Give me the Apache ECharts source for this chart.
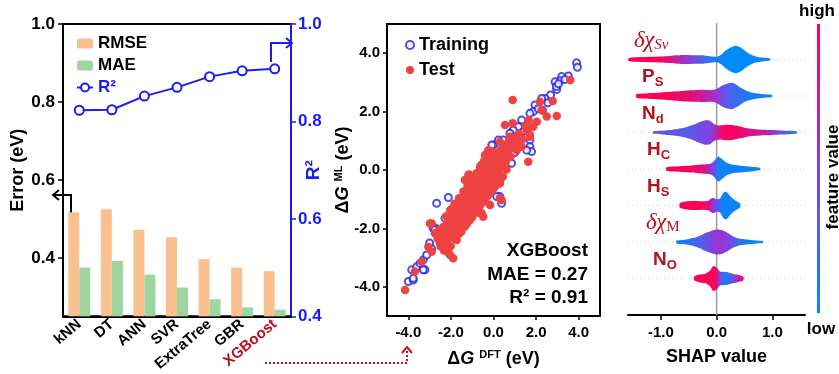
<!DOCTYPE html>
<html><head><meta charset="utf-8">
<script src="https://cdn.jsdelivr.net/npm/echarts@6/dist/echarts.min.js"></script>
<style>html,body{margin:0;padding:0;background:#fff}#c{width:839px;height:374px}</style>
</head><body><div id="c"></div>
<script>
// ---------- data ----------
const models = ['kNN','DT','ANN','SVR','ExtraTree','GBR','XGBoost'];
const rmse = [0.517,0.525,0.472,0.453,0.397,0.375,0.366];
const mae  = [0.375,0.392,0.357,0.324,0.294,0.273,0.267];
const r2   = [0.823,0.824,0.852,0.870,0.892,0.904,0.908];
const errorTicks = [0.4,0.6,0.8,1.0];
const parityTicks = [-4,-2,0,2,4];
const shapTicks = [-1,0,1];

const training = [
[3.90,3.67],[3.94,3.52],[3.51,3.22],[3.20,3.20],[3.12,3.06],[2.89,3.02],[2.97,2.76],[2.95,2.86],[3.35,3.10],[3.05,2.95],
[2.68,2.57],[2.42,2.45],[2.26,2.45],[2.55,2.30],[1.95,2.23],[1.87,2.00],[1.71,1.94],[2.10,2.10],[2.30,2.05],
[1.32,1.71],[1.17,1.48],[0.93,1.37],[0.77,1.26],[1.40,1.31],[1.56,1.14],[1.71,1.03],[1.71,0.80],[1.79,0.63],[1.56,0.68],[1.10,1.10],[1.25,0.95],[0.60,0.80],
[0.00,0.86],[0.23,1.03],[0.46,1.03],[0.93,0.91],[0.85,0.23],[-0.08,0.86],[0.30,0.50],[0.65,0.45],[1.00,0.60],
[0.30,-0.91],[0.38,-1.14],[0.15,-0.91],[-1.02,-0.40],[-2.12,-0.94],[-2.67,-1.14],[-2.70,-2.00],[-2.28,-1.65],[-2.83,-2.00],
[-2.75,-2.05],[-2.20,-2.49],[-1.81,-2.34],[-4.00,-3.82],[-3.77,-3.77],[-3.84,-3.42],[-3.60,-3.31],[-3.45,-3.20],[-3.22,-3.42],[-3.30,-3.08],[-3.14,-2.91],[-3.77,-3.71],[-3.30,-3.42],
[-2.50,-2.20],[-2.00,-1.80],[-1.50,-1.40],[-1.00,-1.00],[-0.50,-0.50],[0.00,0.00],[-0.30,-0.10],[-1.80,-1.30],[-1.20,-0.70],[-0.70,-0.20],[0.20,0.20],[-2.40,-2.60],[-2.90,-2.70],[-3.00,-2.50]
];
const test = [
[0.90,2.40],[3.60,3.08],[2.97,1.85],[2.78,2.36],[2.50,1.83],[2.18,2.34],[2.26,2.05],[2.03,1.65],[1.63,0.28],[0.90,1.60],[0.54,1.54],[-0.24,0.51],[1.71,1.14],[1.56,1.37],[1.86,1.48],[1.32,0.80],[1.09,0.68],
[0.30,-0.97],[-1.18,-0.17],[-0.48,-1.60],[-2.90,-1.83],
[-4.15,-4.11],[-2.98,-1.83],[-2.75,-2.17],[-3.06,-2.63],[-2.90,-2.80],[-3.69,-3.48],[-3.37,-3.14],[-2.04,-2.91],[-1.89,-3.02],[-2.10,-2.85],[-2.51,-2.51],[-2.43,-2.28],[-0.63,-1.48],[-1.73,-2.40],[-1.18,-0.86],[-0.55,-1.48],[0.30,-0.46],[-1.02,-0.74],
[-1.15,-0.15],[-1.34,-0.34],[-0.63,0.11],[-0.40,0.51],[-0.24,0.68],[0.30,0.97],[0.77,1.14],[1.71,1.20],
[0.38,-1.03],[-0.16,-1.20],[-1.42,-1.94],[-2.04,-2.17],[-2.50,-2.28],
[-2.62,-2.35],[-2.55,-2.05],[-2.48,-2.62],[-2.41,-2.30],[-2.36,-1.95],[-2.30,-2.48],[-2.24,-2.15],[-2.18,-1.82],[-2.15,-2.38],[-2.08,-2.02],
[-2.02,-1.68],[-1.97,-2.25],[-1.92,-1.90],[-1.88,-1.55],[-1.84,-2.12],[-1.78,-1.78],[-1.74,-1.42],[-1.70,-2.00],[-1.66,-1.65],[-1.61,-1.30],
[-1.58,-1.88],[-1.53,-1.52],[-1.49,-1.18],[-1.45,-1.75],[-1.41,-1.40],[-1.36,-1.05],[-1.33,-1.62],[-1.28,-1.28],[-1.24,-0.92],[-1.21,-1.50],
[-1.16,-1.15],[-1.12,-0.80],[-1.08,-1.38],[-1.04,-1.02],[-0.99,-0.68],[-0.96,-1.25],[-0.91,-0.90],[-0.87,-0.55],[-0.84,-1.12],[-0.79,-0.78],
[-0.75,-0.42],[-0.72,-1.00],[-0.67,-0.65],[-0.63,-0.30],[-0.60,-0.88],[-0.55,-0.52],[-0.51,-0.18],[-0.48,-0.76],[-0.43,-0.40],[-0.39,-0.05],
[-0.36,-0.64],[-0.31,-0.28],[-0.27,0.08],[-0.24,-0.52],[-0.19,-0.15],[-0.15,0.20],[-0.12,-0.40],[-0.07,-0.02],[-0.03,0.32],[0.00,-0.28],
[0.05,0.10],[0.09,0.45],[0.12,-0.15],[0.17,0.22],[0.21,0.58],[0.25,-0.02],[0.30,0.35],[0.35,0.70],[0.40,0.15],[0.45,0.48],
[0.52,0.85],[0.58,0.30],[0.64,0.62],[0.72,0.98],[0.80,0.45],[0.88,0.78],[0.98,1.10],[1.08,0.90],[1.20,1.25],[1.35,1.05],[1.50,1.50],[1.65,1.70],
[-2.21,-1.58],[-2.03,-1.37],[-1.83,-1.16],[-1.62,-0.97],[-1.41,-0.74],[-1.22,-0.53],[-0.97,-0.31],[-0.81,-0.12],[-0.58,0.17],[-0.44,0.31],[-0.19,0.47],[0.02,0.62],
[-2.32,-2.76],[-2.01,-2.61],[-1.76,-2.31],[-1.52,-2.12],[-1.26,-1.86],[-1.01,-1.62],[-0.77,-1.36],[-0.52,-1.12],[-0.26,-0.87],[-0.02,-0.66],[0.19,-0.47],[0.44,-0.22],[0.61,0.02],
[-1.93,-1.32],[-1.68,-1.12],[-1.47,-0.93],[-1.29,-0.72],[-1.05,-0.49],[-0.86,-0.27],[-0.66,-0.05],[-0.35,0.22],
[-1.62,-2.18],[-1.37,-1.95],[-1.12,-1.72],[-0.88,-1.47],[-0.64,-1.22],[-0.38,-0.98],[-0.13,-0.75],[0.10,-0.55],[0.33,-0.31]
];

// SHAP swarm profiles: [shap value, swarm density, feature value (0 low .. 1 high)]
const features = ['δχSv','PS','Nd','HC','HS','δχM','NO'];
const swarmDchiSv = [[-1.58,1.0,1.0],[-1.45,1.6,1.0],[-1.3,1.8,1.0],[-1.15,2.0,0.98],[-1.0,2.2,0.95],[-0.85,2.6,0.85],[-0.7,3.0,0.7],[-0.55,3.2,0.55],[-0.4,3.0,0.4],[-0.25,3.0,0.25],[-0.12,2.4,0.15],[0.0,2.0,0.1],[0.08,3.5,0.05],[0.15,6.0,0.02],[0.22,8.0,0.0],[0.3,9.5,0.0],[0.36,9.8,0.0],[0.44,8.5,0.0],[0.52,6.0,0.0],[0.6,3.8,0.02],[0.7,2.2,0.05],[0.82,1.4,0.05],[0.96,0.8,0.05]];
const swarmPs = [[-1.44,1.2,1.0],[-1.3,1.8,1.0],[-1.15,2.2,1.0],[-1.0,2.6,0.98],[-0.85,3.0,0.95],[-0.7,3.4,0.92],[-0.55,4.0,0.9],[-0.4,4.2,0.85],[-0.25,4.5,0.75],[-0.12,4.2,0.65],[0.0,5.0,0.55],[0.1,7.5,0.4],[0.2,9.0,0.3],[0.28,9.5,0.25],[0.36,8.0,0.2],[0.45,5.5,0.15],[0.55,3.5,0.1],[0.7,2.0,0.08],[0.85,1.3,0.05],[0.99,0.8,0.05]];
const swarmNd = [[-1.14,0.8,0.3],[-1.0,1.2,0.35],[-0.85,1.8,0.35],[-0.7,2.6,0.35],[-0.55,3.8,0.3],[-0.42,5.5,0.35],[-0.3,7.5,0.4],[-0.2,8.8,0.45],[-0.12,8.5,0.45],[-0.04,6.0,0.6],[0.05,5.0,0.85],[0.15,5.5,0.95],[0.25,5.5,0.95],[0.35,4.8,0.95],[0.45,4.0,0.9],[0.55,3.0,0.85],[0.7,2.4,0.8],[0.85,2.0,0.75],[1.0,1.8,0.6],[1.15,1.5,0.4],[1.3,1.2,0.2],[1.44,0.8,0.05]];
const swarmHc = [[-0.9,1.2,1.0],[-0.75,1.8,1.0],[-0.6,2.2,0.98],[-0.45,2.6,0.95],[-0.32,3.0,0.9],[-0.2,3.4,0.8],[-0.1,4.0,0.55],[-0.03,6.5,0.3],[0.03,9.0,0.1],[0.1,7.0,0.05],[0.18,4.5,0.05],[0.28,3.2,0.05],[0.4,2.6,0.05],[0.55,2.0,0.05],[0.68,1.4,0.05],[0.78,0.8,0.05]];
const swarmHs = [[-0.66,1.6,1.0],[-0.55,2.8,1.0],[-0.45,3.2,1.0],[-0.35,3.2,0.98],[-0.25,3.0,0.95],[-0.15,3.5,0.85],[-0.07,5.5,0.55],[0.0,4.5,0.4],[0.06,5.0,0.15],[0.12,9.0,0.05],[0.17,10.0,0.03],[0.24,7.0,0.03],[0.32,4.0,0.05],[0.42,1.5,0.05]];
const swarmDchiM = [[-0.72,1.0,0.05],[-0.6,1.5,0.1],[-0.5,2.2,0.15],[-0.4,3.0,0.2],[-0.3,4.5,0.3],[-0.2,6.5,0.35],[-0.1,8.0,0.45],[0.0,9.0,0.55],[0.1,8.5,0.55],[0.2,6.5,0.45],[0.3,4.0,0.35],[0.4,2.5,0.2],[0.5,2.0,0.1],[0.62,1.5,0.05],[0.72,1.0,0.05],[0.83,0.8,0.05]];
const swarmNo = [[-0.4,1.5,1.0],[-0.3,2.8,1.0],[-0.2,3.5,1.0],[-0.12,5.5,1.0],[-0.06,9.0,0.97],[0.0,8.0,0.9],[0.06,5.0,0.4],[0.12,4.8,0.15],[0.2,4.5,0.15],[0.28,3.5,0.3],[0.36,2.8,0.6],[0.44,2.0,0.9],[0.48,1.2,0.95]];
const swarms = [swarmDchiSv, swarmPs, swarmNd, swarmHc, swarmHs, swarmDchiM, swarmNo];

// ---------- style helpers ----------
const FONT = 'Liberation Sans';
const BLUE = '#1c1cf0';
const DARKRED = '#b5121d';
const cmapStops = [[0,[0,139,251]],[0.5,[140,60,222]],[1,[255,0,82]]];
function cmap(v){
  for (let i=1;i<cmapStops.length;i++){
    if (v <= cmapStops[i][0]){
      const a = cmapStops[i-1], b = cmapStops[i];
      const t = (v-a[0])/(b[0]-a[0]);
      const c = a[1].map((x,j)=>Math.round(x+(b[1][j]-x)*t));
      return 'rgb('+c.join(',')+')';
    }
  }
  return 'rgb('+cmapStops[cmapStops.length-1][1].join(',')+')';
}
const SHAP_MIN = -1.59, SHAP_MAX = 1.585;
const bold = (size, color) => ({fontFamily: FONT, fontWeight: 'bold', fontSize: size, color: color || '#000'});
const nameRich = {
  n: {fontFamily: FONT, fontWeight:'bold', fontSize:18, color:'#000'},
  i: {fontFamily: FONT, fontWeight:'bold', fontStyle:'italic', fontSize:18, color:'#000'},
  s: {fontFamily: FONT, fontWeight:'bold', fontSize:11, color:'#000', verticalAlign:'top', lineHeight:20}
};

const chart = echarts.init(document.getElementById('c'), null, {renderer:'canvas'});

const option = {
  animation: false,
  backgroundColor: '#fff',
  textStyle: {fontFamily: FONT},
  grid: [
    {left:63, top:24, width:228, height:294, show:true, borderColor:'#000', borderWidth:2, backgroundColor:'rgba(0,0,0,0)'},
    {left:387, top:24, width:213, height:292, show:true, borderColor:'#000', borderWidth:2, backgroundColor:'rgba(0,0,0,0)'},
    {left:628, top:23, width:177, height:292}
  ],
  legend: [
    {orient:'vertical', left:71, top:30, itemWidth:16, itemHeight:10, itemGap:5, itemTextGap:5,
     textStyle: bold(17),
     data:[{name:'RMSE'},{name:'MAE'},{name:'R²', textStyle:{color:BLUE}}]},
    {orient:'vertical', left:400, top:31, itemWidth:8, itemHeight:8, itemGap:7, itemTextGap:10,
     textStyle: bold(18),
     data:['Training','Test']}
  ],
  xAxis: [
    {type:'category', gridIndex:0, data:models,
     axisLine:{lineStyle:{color:'#000', width:2}}, axisTick:{show:false},
     axisLabel:{interval:0, rotate:40, margin:6, ...bold(15),
       formatter: v => v === 'XGBoost' ? '{r|'+v+'}' : v,
       rich:{r:{...bold(15, DARKRED)}}}},
    {type:'value', gridIndex:1, min:-5, max:5,
     axisLine:{onZero:false, lineStyle:{color:'#000', width:2}},
     axisTick:{show:true, length:4, customValues: parityTicks, lineStyle:{width:1.5}},
     axisLabel:{customValues: parityTicks, formatter: v => v.toFixed(1), margin:9, ...bold(15)},
     splitLine:{show:false},
     name:'{n|Δ}{i|G }{s|DFT}{n| (eV)}', nameLocation:'middle', nameGap:33, nameMoveOverlap:false,
     nameTextStyle:{rich:nameRich}},
    {type:'value', gridIndex:2, min:SHAP_MIN, max:SHAP_MAX,
     axisLine:{onZero:false, lineStyle:{color:'#000', width:2}},
     axisTick:{show:true, length:5, customValues: shapTicks, lineStyle:{width:1.5}},
     axisLabel:{customValues: shapTicks, formatter: v => v.toFixed(1), margin:10, ...bold(15)},
     splitLine:{show:false},
     name:'SHAP value', nameLocation:'middle', nameGap:33, nameMoveOverlap:false, nameTextStyle: bold(18)}
  ],
  yAxis: [
    {type:'value', gridIndex:0, min:0.25, max:1.0,
     axisLine:{show:true, onZero:false, lineStyle:{color:'#000', width:2}},
     axisTick:{show:true, length:5, customValues: errorTicks, lineStyle:{width:1.5}},
     axisLabel:{customValues: errorTicks, formatter: v => v.toFixed(1), margin:8, ...bold(17)},
     splitLine:{show:false},
     name:'Error (eV)', nameLocation:'middle', nameGap:36, nameRotate:90, nameMoveOverlap:false, nameTextStyle: bold(18)},
    {type:'value', gridIndex:0, position:'right', min:0.4, max:1.0, interval:0.2,
     axisLine:{show:true, onZero:false, lineStyle:{color:BLUE, width:2}},
     axisTick:{show:true, length:5, lineStyle:{color:BLUE, width:1.5}},
     axisLabel:{formatter: v => v.toFixed(1), margin:7, ...bold(17, BLUE)},
     splitLine:{show:false},
     name:'R²', nameLocation:'middle', nameGap:13, nameRotate:90, nameMoveOverlap:false, nameTextStyle: bold(19, BLUE)},
    {type:'value', gridIndex:1, min:-5, max:5,
     axisLine:{onZero:false, lineStyle:{color:'#000', width:2}},
     axisTick:{show:true, length:4, customValues: parityTicks, lineStyle:{width:1.5}},
     axisLabel:{customValues: parityTicks, formatter: v => v.toFixed(1), margin:7, ...bold(15)},
     splitLine:{show:false},
     name:'{n|Δ}{i|G }{s|ML}{n| (eV)}', nameLocation:'middle', nameGap:34, nameRotate:90, nameMoveOverlap:false,
     nameTextStyle:{rich:nameRich}},
    {type:'value', gridIndex:2, min:-1, max:7, inverse:true, show:false}
  ],
  series: [
    {name:'RMSE', type:'bar', xAxisIndex:0, yAxisIndex:0, data:rmse, barWidth:11, barGap:'0%',
     itemStyle:{color:'#f9c190'}},
    {name:'MAE', type:'bar', xAxisIndex:0, yAxisIndex:0, data:mae, barWidth:11, barGap:'0%',
     itemStyle:{color:'#9dd69e'}},
    {name:'R²', type:'line', xAxisIndex:0, yAxisIndex:1, data:r2, symbol:'emptyCircle', symbolSize:9,
     lineStyle:{color:BLUE, width:2}, itemStyle:{color:BLUE, borderWidth:2}, z:5},
    {name:'Training', type:'scatter', xAxisIndex:1, yAxisIndex:2, data:training, symbol:'emptyCircle', symbolSize:7,
     itemStyle:{color:'#1f22e0', borderWidth:1}},
    {name:'Test', type:'scatter', xAxisIndex:1, yAxisIndex:2, data:test, symbolSize:8.5,
     itemStyle:{color:'#ef4242', opacity:1}},
    {type:'custom', xAxisIndex:2, yAxisIndex:3, data:[[0]], silent:true, z:1,
     renderItem:(params, api) => {
       const a = api.coord([0,-1]), b = api.coord([0,7]);
       return {type:'line', shape:{x1:a[0], y1:a[1], x2:b[0], y2:b[1]}, style:{stroke:'#9a9a9a', lineWidth:1.5}};
     }},
    {type:'custom', xAxisIndex:2, yAxisIndex:3, data: features.map((f,i)=>[0,i]), silent:true, z:2,
     renderItem:(params, api) => {
       const i = params.dataIndex;
       const prof = swarms[i];
       const k = 0.038;
       const top = prof.map(p => api.coord([p[0], i - p[1]*k]));
       const bot = prof.slice().reverse().map(p => api.coord([p[0], i + p[1]*k]));
       const x0 = top[0][0], x1 = top[top.length-1][0];
       const stops = prof.map((p,j) => ({offset:(top[j][0]-x0)/(x1-x0), color:cmap(p[2])}));
       const l = api.coord([SHAP_MIN, i]), r = api.coord([SHAP_MAX, i]);
       return {type:'group', children:[
         {type:'line', shape:{x1:l[0], y1:l[1], x2:r[0], y2:r[1]}, style:{stroke:'#d6d6d6', lineWidth:1, lineDash:[1,3]}},
         {type:'polygon', shape:{points: top.concat(bot), smooth:0.25},
          style:{fill: new echarts.graphic.LinearGradient(x0,0,x1,0,stops,true)}}
       ]};
     }}
  ]
};

// ---------- annotations ----------
const barStops = [0,0.25,0.5,0.75,1].map(t => ({offset:t, color:cmap(t)}));
const featRich = {
  sans: {fontFamily:FONT, fontWeight:'bold', fontSize:19, fill:DARKRED, lineHeight:24},
  sub: {fontFamily:FONT, fontWeight:'bold', fontSize:13, fill:DARKRED, verticalAlign:'bottom', lineHeight:14},
  gr: {fontFamily:'Liberation Serif', fontStyle:'italic', fontSize:23, fill:DARKRED, lineHeight:24},
  gsub: {fontFamily:'Liberation Serif', fontStyle:'italic', fontSize:15, fill:DARKRED, verticalAlign:'bottom', lineHeight:16},
  msub: {fontFamily:'Liberation Serif', fontSize:15, fill:DARKRED, verticalAlign:'bottom', lineHeight:16}
};
const featText = ['{gr|δχ}{gsub|Sv}','{sans|P}{sub|S}','{sans|N}{sub|d}','{sans|H}{sub|C}','{sans|H}{sub|S}','{gr|δχ}{msub|M}','{sans|N}{sub|O}'];
const featLabelX = [634,642,642,647,647,646,653];
const graphics = featText.map((t,i) => ({type:'text', x:featLabelX[i], y:59.5+36.5*i-19,
  style:{text:t, rich:featRich, verticalAlign:'middle', align:'left'}}));

graphics.push(
  {type:'rect', shape:{x:817, y:24, width:3, height:289}, style:{fill:new echarts.graphic.LinearGradient(0,1,0,0,barStops)}},
  {type:'text', x:817, y:11, style:{text:'high', font:'bold 17px '+FONT, fill:'#000', align:'center', verticalAlign:'middle'}},
  {type:'text', x:821, y:329, style:{text:'low', font:'bold 17px '+FONT, fill:'#000', align:'center', verticalAlign:'middle'}},
  {type:'text', x:833, y:177, rotation:Math.PI/2, style:{text:'feature value', font:'bold 17px '+FONT, fill:'#000', align:'center', verticalAlign:'middle'}},
  {type:'text', x:588, y:251, style:{text:'XGBoost', font:'bold 19px '+FONT, fill:'#000', align:'right', verticalAlign:'middle'}},
  {type:'text', x:588, y:275, style:{text:'MAE = 0.27', font:'bold 19px '+FONT, fill:'#000', align:'right', verticalAlign:'middle'}},
  {type:'text', x:588, y:298, style:{text:'R² = 0.91', font:'bold 19px '+FONT, fill:'#000', align:'right', verticalAlign:'middle'}},
  // arrows
  {type:'polyline', shape:{points:[[71,213],[71,195],[53,195]]}, style:{stroke:'#000', lineWidth:2, fill:null}},
  {type:'polyline', shape:{points:[[59,190],[53,195],[59,200]]}, style:{stroke:'#000', lineWidth:2, fill:null}},
  {type:'polyline', shape:{points:[[271,62],[271,43],[292,43]]}, style:{stroke:BLUE, lineWidth:2, fill:null}, z:10},
  {type:'polyline', shape:{points:[[286,38],[292,43],[286,48]]}, style:{stroke:BLUE, lineWidth:2, fill:null}, z:10},
  {type:'polyline', shape:{points:[[265,363],[407,363],[407,349]]}, style:{stroke:'#c8141e', lineWidth:2, lineDash:[2,2], fill:null}},
  {type:'polyline', shape:{points:[[402,353],[407,347],[412,353]]}, style:{stroke:'#c8141e', lineWidth:2, fill:null}}
);
option.graphic = graphics;
chart.setOption(option);
</script></body></html>
